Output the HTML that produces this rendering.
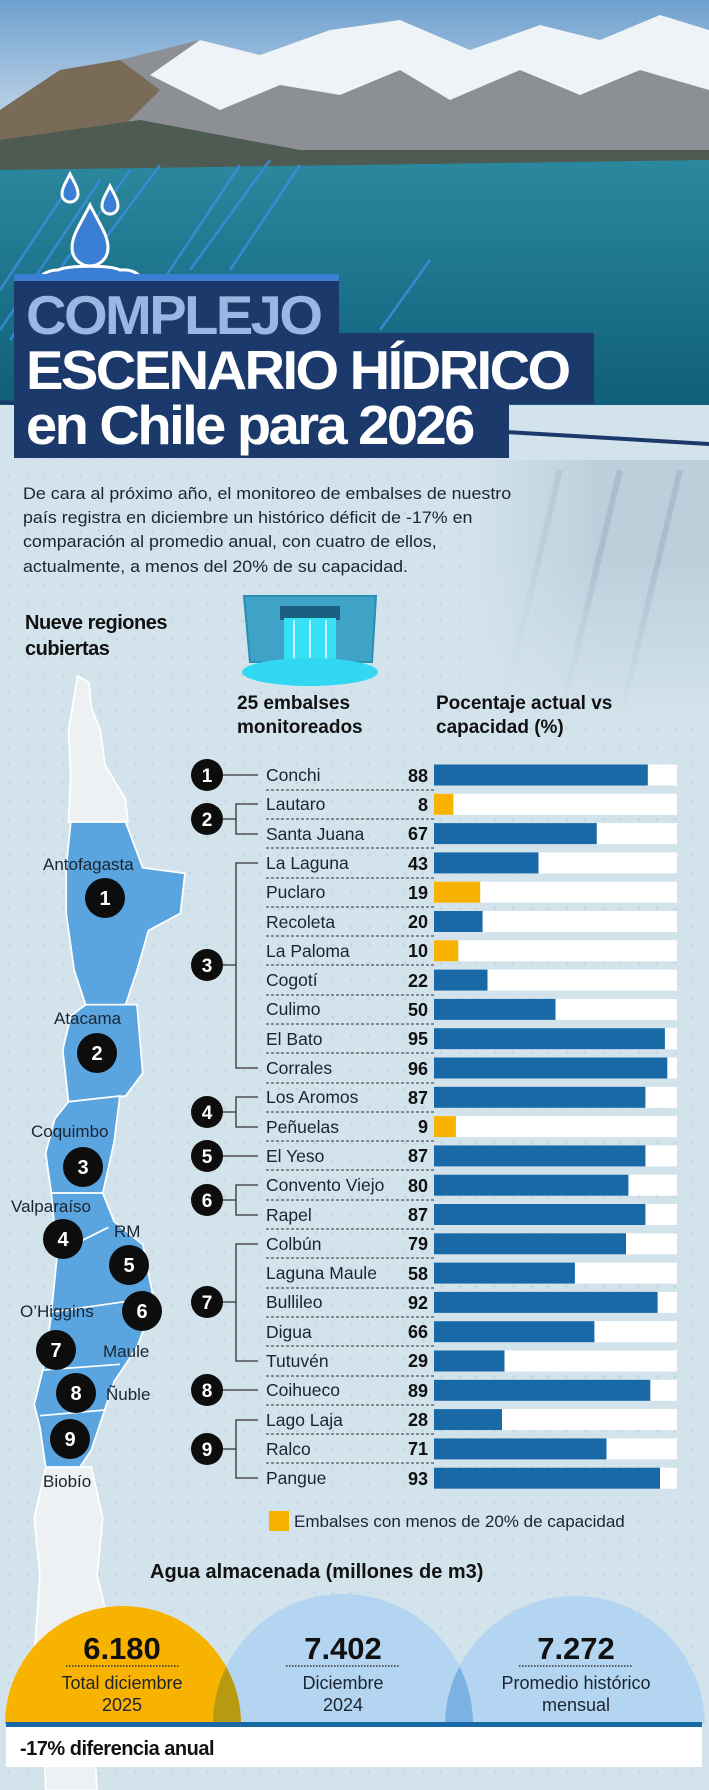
<!DOCTYPE html>
<html><head><meta charset="utf-8"><style>
*{margin:0;padding:0;box-sizing:border-box}
body{width:709px;height:1790px;position:relative;overflow:hidden;background:#d3e3ec;font-family:"Liberation Sans",sans-serif}
.dots{position:absolute;left:0;top:0;width:709px;height:1790px;background-image:radial-gradient(circle,#c3d7e4 1.3px,transparent 1.6px);background-size:18px 18px}
.abs{position:absolute}
.tb{position:absolute;background:#1b3a6b;left:14px}
.tt{position:absolute;left:26px;font-weight:900;font-family:"Liberation Sans",sans-serif;letter-spacing:-2.5px;white-space:nowrap;transform-origin:left top}
.para{position:absolute;left:23px;top:482px;font-size:17px;line-height:24.2px;color:#1c2430;white-space:nowrap;transform:scaleX(1.05);transform-origin:left top}
</style></head><body>
<div class="dots"></div>
<svg class="abs" style="left:0;top:0" width="709" height="720" viewBox="0 0 709 720">
<defs>
<linearGradient id="sky" x1="0" y1="0" x2="0" y2="1"><stop offset="0" stop-color="#6fa0cf"/><stop offset="1" stop-color="#e8eef4"/></linearGradient>
<linearGradient id="lake" x1="0" y1="0" x2="0" y2="1"><stop offset="0" stop-color="#2c8aa0"/><stop offset="1" stop-color="#0e5c78"/></linearGradient>
<linearGradient id="dam" x1="0" y1="0" x2="1" y2="0"><stop offset="0" stop-color="#d3e3ec" stop-opacity="1"/><stop offset="0.55" stop-color="#d3e3ec" stop-opacity="0"/><stop offset="1" stop-color="#cfdde6" stop-opacity="0"/></linearGradient>
<linearGradient id="damv" x1="0" y1="0" x2="0" y2="1"><stop offset="0" stop-color="#d3e3ec" stop-opacity="0"/><stop offset="1" stop-color="#d3e3ec" stop-opacity="1"/></linearGradient>
</defs>
<rect width="709" height="180" fill="url(#sky)"/>
<polygon points="0,110 60,70 120,60 200,40 260,55 330,30 400,20 470,50 540,25 600,40 660,15 709,30 709,170 0,170" fill="#8c8f94"/>
<polygon points="150,75 200,40 260,55 330,30 400,20 470,50 540,25 600,40 660,15 709,30 709,90 640,70 580,95 520,70 450,100 400,70 340,95 280,85 220,110" fill="#eef3f8"/>
<polygon points="0,110 60,70 120,60 160,90 120,130 60,150 0,150" fill="#7a6a58"/>
<rect y="150" width="709" height="270" fill="url(#lake)"/>
<polygon points="0,140 140,120 300,150 709,150 709,160 0,170" fill="#4d5b52"/>
<polygon points="480,440 709,440 709,720 480,720" fill="#bcd0dc"/>
<g stroke="#a8bfcd" stroke-width="6"><line x1="560" y1="720" x2="620" y2="470"/><line x1="620" y1="720" x2="680" y2="470"/><line x1="500" y1="720" x2="560" y2="470"/></g>
<rect x="470" y="440" width="239" height="280" fill="url(#dam)"/>
<rect y="405" width="709" height="40" fill="#d3e3ec"/>
<polygon points="0,405 709,445 709,460 0,460" fill="#d3e3ec"/>
<polygon points="0,400 709,442 709,446 0,404" fill="#1b3a6b"/>
<rect x="460" y="560" width="249" height="160" fill="url(#damv)"/>
<g stroke="#3f8ee0" stroke-width="2.5" opacity="0.8">
<line x1="0" y1="330" x2="100" y2="180"/><line x1="10" y1="340" x2="130" y2="170"/><line x1="30" y1="340" x2="160" y2="165"/><line x1="150" y1="300" x2="240" y2="165"/><line x1="190" y1="270" x2="270" y2="160"/><line x1="230" y1="270" x2="300" y2="165"/><line x1="0" y1="290" x2="70" y2="185"/><line x1="380" y1="330" x2="430" y2="260"/></g>
<g fill="#3b7fd4" stroke="#fff" stroke-width="3">
<path d="M90,205 C80,225 72,235 72,248 A18,18 0 0 0 108,248 C108,235 100,225 90,205Z"/>
<path d="M70,174 C65,184 62,188 62,194 A8,8 0 0 0 78,194 C78,188 75,184 70,174Z"/>
<path d="M110,186 C105,196 102,200 102,206 A8,8 0 0 0 118,206 C118,200 115,196 110,186Z"/>
<path d="M58,270 C40,270 30,285 50,290 C65,293 110,296 130,290 C150,284 140,268 120,270 C110,265 70,265 58,270Z"/>
</g>
</svg>
<div class="tb" style="top:274px;width:325px;height:8px;background:#3b7fd4"></div>
<div class="tb" style="top:281px;width:325px;height:54px"></div>
<div class="tb" style="top:333px;width:580px;height:71px"></div>
<div class="tb" style="top:402px;width:495px;height:56px"></div>
<div class="tt" style="top:283px;font-size:55px;color:#9ab6e2;transform:scaleX(1.02)">COMPLEJO</div>
<div class="tt" style="top:338px;font-size:55px;color:#fff;transform:scaleX(1.02)">ESCENARIO HÍDRICO</div>
<div class="tt" style="top:393px;font-size:55px;color:#fff;transform:scaleX(1.02)">en Chile para 2026</div>
<div class="para">De cara al próximo año, el monitoreo de embalses de nuestro<br>país registra en diciembre un histórico déficit de -17% en<br>comparación al promedio anual, con cuatro de ellos,<br>actualmente, a menos del 20% de su capacidad.</div>
<div class="abs" style="left:25px;top:610px;font-size:20px;font-weight:900;line-height:26px;color:#111;letter-spacing:-0.5px">Nueve regiones<br>cubiertas</div>
<svg class="abs" style="left:240px;top:592px" width="142" height="96" viewBox="0 0 142 96">
<path d="M4,4 L136,4 L132,70 L10,70Z" fill="#3fa3c8" stroke="#2c8db3" stroke-width="2"/>
<rect x="40" y="14" width="60" height="14" fill="#1d5f82"/>
<rect x="44" y="26" width="52" height="48" fill="#36e0f5"/>
<g stroke="#fff" stroke-width="2" opacity=".7"><line x1="54" y1="28" x2="54" y2="72"/><line x1="70" y1="28" x2="70" y2="72"/><line x1="86" y1="28" x2="86" y2="72"/></g>
<ellipse cx="70" cy="80" rx="68" ry="14" fill="#32d7f2"/>
</svg>
<div class="abs" style="left:237px;top:692px;font-size:19px;font-weight:900;line-height:24px;color:#111">25 embalses<br>monitoreados</div>
<div class="abs" style="left:436px;top:692px;font-size:19px;font-weight:900;line-height:24px;color:#111">Pocentaje actual vs<br>capacidad (%)</div>
<svg class="abs" style="left:0;top:0" width="709" height="1790" viewBox="0 0 709 1790">
<g transform="scale(1.1417)" stroke="#fff" stroke-width="1.5">
<polygon fill="#eef1f4" points="68,592 78,598 80,620 88,640 92,670 110,700 112,720 100,720 70,725 60,720 62,680 60,640 65,610"/>
<polygon fill="#5aa5e0" points="62,720 110,720 125,760 162,765 158,800 130,815 120,850 110,880 75,880 65,850 58,800 58,760"/>
<polygon fill="#5aa5e0" points="75,880 120,880 125,940 110,960 60,965 55,920 62,890"/>
<polygon fill="#5aa5e0" points="60,965 105,960 100,1000 90,1045 45,1045 40,1010 48,980"/>
<polygon fill="#5aa5e0" points="45,1045 90,1045 100,1070 125,1090 135,1140 120,1180 100,1210 90,1240 80,1270 70,1285 40,1285 35,1250 30,1230 40,1190 45,1150 50,1100"/>
<polygon fill="#eef1f4" points="40,1285 80,1285 90,1330 85,1380 95,1420 80,1480 85,1568 40,1568 38,1500 30,1450 35,1380 30,1330"/>
<polyline fill="none" points="45,1100 95,1075"/><polyline fill="none" points="40,1150 110,1140"/><polyline fill="none" points="38,1200 105,1195"/><polyline fill="none" points="35,1240 92,1235"/>
</g>
<g font-family="Liberation Sans,sans-serif" font-size="17" fill="#1c2430">
<text x="43" y="870">Antofagasta</text><text x="54" y="1024">Atacama</text><text x="31" y="1137">Coquimbo</text><text x="11" y="1212">Valparaíso</text><text x="114" y="1237">RM</text><text x="20" y="1317">O’Higgins</text><text x="103" y="1357">Maule</text><text x="106" y="1400">Ñuble</text><text x="43" y="1487">Biobío</text>
</g>
<g fill="#0d0d0d"><circle cx="105" cy="898" r="20"/><circle cx="97" cy="1053" r="20"/><circle cx="83" cy="1167" r="20"/><circle cx="63" cy="1239" r="20"/><circle cx="129" cy="1265" r="20"/><circle cx="142" cy="1311" r="20"/><circle cx="56" cy="1350" r="20"/><circle cx="76" cy="1393" r="20"/><circle cx="70" cy="1439" r="20"/></g>
<g fill="#fff" font-size="20" font-weight="bold" text-anchor="middle"><text x="105" y="905">1</text><text x="97" y="1060">2</text><text x="83" y="1174">3</text><text x="63" y="1246">4</text><text x="129" y="1272">5</text><text x="142" y="1318">6</text><text x="56" y="1357">7</text><text x="76" y="1400">8</text><text x="70" y="1446">9</text></g>
<g stroke="#333" stroke-width="1.3" fill="none">
<line x1="207" y1="775" x2="258" y2="775"/>
<path d="M222,819 H236 M258,804 H236 V834 H258"/>
<path d="M222,965 H236 M258,863 H236 V1068 H258"/>
<path d="M222,1112 H236 M258,1097 H236 V1127 H258"/>
<line x1="207" y1="1156" x2="258" y2="1156"/>
<path d="M222,1200 H236 M258,1185 H236 V1215 H258"/>
<path d="M222,1302 H236 M258,1244 H236 V1361 H258"/>
<line x1="207" y1="1390" x2="258" y2="1390"/>
<path d="M222,1449 H236 M258,1420 H236 V1478 H258"/>
</g>
<g stroke="#333" stroke-width="1" stroke-dasharray="3,2">
<line x1="266" y1="790" x2="434" y2="790"/><line x1="266" y1="819" x2="434" y2="819"/><line x1="266" y1="848" x2="434" y2="848"/><line x1="266" y1="878" x2="434" y2="878"/><line x1="266" y1="907" x2="434" y2="907"/><line x1="266" y1="936" x2="434" y2="936"/><line x1="266" y1="965" x2="434" y2="965"/><line x1="266" y1="995" x2="434" y2="995"/><line x1="266" y1="1024" x2="434" y2="1024"/><line x1="266" y1="1053" x2="434" y2="1053"/><line x1="266" y1="1083" x2="434" y2="1083"/><line x1="266" y1="1112" x2="434" y2="1112"/><line x1="266" y1="1141" x2="434" y2="1141"/><line x1="266" y1="1170" x2="434" y2="1170"/><line x1="266" y1="1200" x2="434" y2="1200"/><line x1="266" y1="1229" x2="434" y2="1229"/><line x1="266" y1="1258" x2="434" y2="1258"/><line x1="266" y1="1288" x2="434" y2="1288"/><line x1="266" y1="1317" x2="434" y2="1317"/><line x1="266" y1="1346" x2="434" y2="1346"/><line x1="266" y1="1376" x2="434" y2="1376"/><line x1="266" y1="1405" x2="434" y2="1405"/><line x1="266" y1="1434" x2="434" y2="1434"/><line x1="266" y1="1463" x2="434" y2="1463"/>
</g>
<g fill="#0d0d0d"><circle cx="207" cy="775" r="16"/><circle cx="207" cy="819" r="16"/><circle cx="207" cy="965" r="16"/><circle cx="207" cy="1112" r="16"/><circle cx="207" cy="1156" r="16"/><circle cx="207" cy="1200" r="16"/><circle cx="207" cy="1302" r="16"/><circle cx="207" cy="1390" r="16"/><circle cx="207" cy="1449" r="16"/></g>
<g fill="#fff" font-size="19" font-weight="bold" text-anchor="middle"><text x="207" y="782">1</text><text x="207" y="826">2</text><text x="207" y="972">3</text><text x="207" y="1119">4</text><text x="207" y="1163">5</text><text x="207" y="1207">6</text><text x="207" y="1309">7</text><text x="207" y="1397">8</text><text x="207" y="1456">9</text></g>
<g fill="#fff">
<rect x="434" y="764.5" width="243" height="21"/><rect x="434" y="793.8" width="243" height="21"/><rect x="434" y="823.1" width="243" height="21"/><rect x="434" y="852.4" width="243" height="21"/><rect x="434" y="881.7" width="243" height="21"/><rect x="434" y="911" width="243" height="21"/><rect x="434" y="940.3" width="243" height="21"/><rect x="434" y="969.6" width="243" height="21"/><rect x="434" y="998.9" width="243" height="21"/><rect x="434" y="1028.2" width="243" height="21"/><rect x="434" y="1057.5" width="243" height="21"/><rect x="434" y="1086.8" width="243" height="21"/><rect x="434" y="1116.1" width="243" height="21"/><rect x="434" y="1145.4" width="243" height="21"/><rect x="434" y="1174.7" width="243" height="21"/><rect x="434" y="1204" width="243" height="21"/><rect x="434" y="1233.3" width="243" height="21"/><rect x="434" y="1262.6" width="243" height="21"/><rect x="434" y="1291.9" width="243" height="21"/><rect x="434" y="1321.2" width="243" height="21"/><rect x="434" y="1350.5" width="243" height="21"/><rect x="434" y="1379.8" width="243" height="21"/><rect x="434" y="1409.1" width="243" height="21"/><rect x="434" y="1438.4" width="243" height="21"/><rect x="434" y="1467.7" width="243" height="21"/>
</g>
<g fill="#1a69a7">
<rect x="434" y="764.5" width="213.8" height="21"/>
<rect x="434" y="823.1" width="162.8" height="21"/>
<rect x="434" y="852.4" width="104.5" height="21"/>
<rect x="434" y="911" width="48.6" height="21"/>
<rect x="434" y="969.6" width="53.5" height="21"/>
<rect x="434" y="998.9" width="121.5" height="21"/>
<rect x="434" y="1028.2" width="230.9" height="21"/>
<rect x="434" y="1057.5" width="233.3" height="21"/>
<rect x="434" y="1086.8" width="211.4" height="21"/>
<rect x="434" y="1145.4" width="211.4" height="21"/>
<rect x="434" y="1174.7" width="194.4" height="21"/>
<rect x="434" y="1204" width="211.4" height="21"/>
<rect x="434" y="1233.3" width="192" height="21"/>
<rect x="434" y="1262.6" width="140.9" height="21"/>
<rect x="434" y="1291.9" width="223.6" height="21"/>
<rect x="434" y="1321.2" width="160.4" height="21"/>
<rect x="434" y="1350.5" width="70.5" height="21"/>
<rect x="434" y="1379.8" width="216.3" height="21"/>
<rect x="434" y="1409.1" width="68" height="21"/>
<rect x="434" y="1438.4" width="172.5" height="21"/>
<rect x="434" y="1467.7" width="226" height="21"/>
</g>
<g fill="#f8b200">
<rect x="434" y="793.8" width="19.4" height="21"/>
<rect x="434" y="881.7" width="46.2" height="21"/>
<rect x="434" y="940.3" width="24.3" height="21"/>
<rect x="434" y="1116.1" width="21.9" height="21"/>
<rect x="269" y="1511" width="20" height="20"/>
</g>
<g font-size="17.5" fill="#1c2430">
<text x="266" y="781">Conchi</text><text x="266" y="810">Lautaro</text><text x="266" y="840">Santa Juana</text><text x="266" y="869">La Laguna</text><text x="266" y="898">Puclaro</text><text x="266" y="928">Recoleta</text><text x="266" y="957">La Paloma</text><text x="266" y="986">Cogotí</text><text x="266" y="1015">Culimo</text><text x="266" y="1045">El Bato</text><text x="266" y="1074">Corrales</text><text x="266" y="1103">Los Aromos</text><text x="266" y="1133">Peñuelas</text><text x="266" y="1162">El Yeso</text><text x="266" y="1191">Convento Viejo</text><text x="266" y="1221">Rapel</text><text x="266" y="1250">Colbún</text><text x="266" y="1279">Laguna Maule</text><text x="266" y="1308">Bullileo</text><text x="266" y="1338">Digua</text><text x="266" y="1367">Tutuvén</text><text x="266" y="1396">Coihueco</text><text x="266" y="1426">Lago Laja</text><text x="266" y="1455">Ralco</text><text x="266" y="1484">Pangue</text>
</g>
<g font-size="18" font-weight="bold" fill="#111" text-anchor="end">
<text x="428" y="782">88</text><text x="428" y="811">8</text><text x="428" y="840">67</text><text x="428" y="870">43</text><text x="428" y="899">19</text><text x="428" y="928">20</text><text x="428" y="957">10</text><text x="428" y="987">22</text><text x="428" y="1016">50</text><text x="428" y="1045">95</text><text x="428" y="1075">96</text><text x="428" y="1104">87</text><text x="428" y="1133">9</text><text x="428" y="1162">87</text><text x="428" y="1192">80</text><text x="428" y="1221">87</text><text x="428" y="1250">79</text><text x="428" y="1280">58</text><text x="428" y="1309">92</text><text x="428" y="1338">66</text><text x="428" y="1367">29</text><text x="428" y="1397">89</text><text x="428" y="1426">28</text><text x="428" y="1455">71</text><text x="428" y="1485">93</text>
</g>
<text x="294" y="1527" font-size="17" fill="#1c2430">Embalses con menos de 20% de capacidad</text>
<text x="150" y="1578" font-size="20" font-weight="900" fill="#111">Agua almacenada (millones de m3)</text>
<clipPath id="cl"><rect x="0" y="1500" width="709" height="224"/></clipPath>
<g clip-path="url(#cl)">
<circle cx="343" cy="1724" r="130" fill="#b4d5f2"/>
<circle cx="575" cy="1726" r="130" fill="#b4d5f2"/>
<circle cx="123" cy="1724" r="118" fill="#f8b200"/>
<clipPath id="c1"><circle cx="123" cy="1724" r="118"/></clipPath>
<circle cx="343" cy="1724" r="130" fill="#b89a10" clip-path="url(#c1)"/>
<clipPath id="c2"><circle cx="343" cy="1724" r="130"/></clipPath>
<circle cx="575" cy="1726" r="130" fill="#7cb1e3" clip-path="url(#c2)"/>
</g>
<rect x="6" y="1722" width="696" height="5" fill="#1a69a7"/>
<rect x="6" y="1727" width="696" height="40" fill="#fff"/>
<text x="20" y="1755" font-size="20" font-weight="900" fill="#111" letter-spacing="-0.5">-17% diferencia anual</text>
<g font-size="31" font-weight="bold" fill="#111" text-anchor="middle"><text x="122" y="1659">6.180</text><text x="343" y="1659">7.402</text><text x="576" y="1659">7.272</text></g>
<g stroke="#333" stroke-width="1.5" stroke-dasharray="1.5,1.5"><line x1="66" y1="1666" x2="179" y2="1666"/><line x1="286" y1="1666" x2="400" y2="1666"/><line x1="519" y1="1666" x2="633" y2="1666"/></g>
<g font-size="18" fill="#1c2430" text-anchor="middle"><text x="122" y="1689">Total diciembre</text><text x="122" y="1711">2025</text><text x="343" y="1689">Diciembre</text><text x="343" y="1711">2024</text><text x="576" y="1689">Promedio histórico</text><text x="576" y="1711">mensual</text></g>
</svg>
</body></html>
